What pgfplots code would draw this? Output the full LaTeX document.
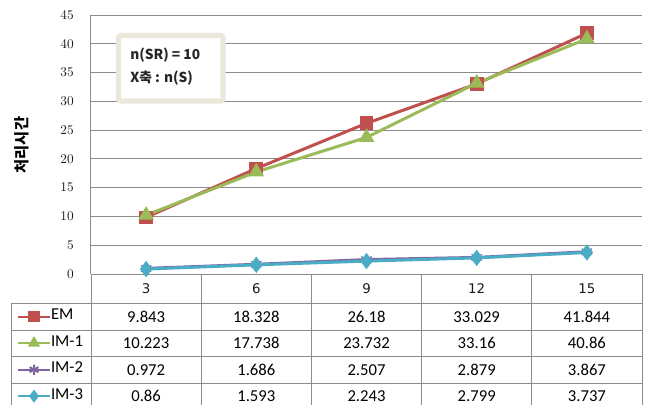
\documentclass[border=0pt]{standalone}
\usepackage{fontspec}
\setmainfont{Carlito}
\newfontfamily\kr{Noto Sans CJK KR}
\newfontfamily\dv{DejaVu Sans}
\usepackage{pgfplots}
\pgfplotsset{compat=1.18}
\usetikzlibrary{shadows}
\definecolor{cEM}{HTML}{C0504D}
\definecolor{cIa}{HTML}{9BBB59}
\definecolor{cIb}{HTML}{8064A2}
\definecolor{cIc}{HTML}{4BACC6}
\definecolor{gridc}{HTML}{8C8C8C}
\definecolor{boxc}{HTML}{EAE8DA}
\begin{document}
\begin{tikzpicture}
\begin{axis}[
  name=ax,
  scale only axis, width=413.25bp, height=194.25bp,
  xmin=0, xmax=5, ymin=0, ymax=45,
  ytick={0,5,...,45},
  xtick={0.5,1.5,2.5,3.5,4.5},
  xticklabels={3,6,9,12,15},
  major tick length=0pt,
  axis lines*=left,
  axis line style={gridc, line width=0.75bp},
  ymajorgrids, grid style={gridc, line width=0.75bp},
  yticklabel style={font=\dv\fontsize{10bp}{12bp}\selectfont, text=black!90, anchor=east, inner sep=0pt, xshift=-12.75bp},
  xticklabel style={font=\dv\fontsize{10bp}{12bp}\selectfont, text=black!90, anchor=center, inner sep=0pt, yshift=-11.25bp},
  ylabel={\kr\bfseries 처리시간},
  ylabel style={at={(rel axis cs:-0.125,0.498)}, anchor=center, font=\fontsize{11.5bp}{13bp}\selectfont},
  clip=false,
  legend cell align=left,
  legend image code/.code={\draw[mark repeat=2,mark phase=2,#1,line width=1.5bp,mark options={scale=0.85}] plot coordinates {(1.5bp,0bp)(13.5bp,0bp)(25.5bp,0bp)};},
  legend style={at={(rel axis cs:-0.1343,-0.131)}, anchor=north west, draw=none, fill=none,
    inner sep=0pt, outer sep=0pt, row sep=6.9bp,
    font=\fontsize{12.5bp}{14bp}\selectfont,
    nodes={inner sep=0pt, text height=9bp, text depth=4bp}},
]
\addplot[cEM, line width=2.25bp, mark=square*, mark size=4bp] coordinates {(0.5,9.843)(1.5,18.328)(2.5,26.18)(3.5,33.029)(4.5,41.844)};
\addlegendentry{EM}
\addplot[cIa, line width=2.25bp, mark=triangle*, mark size=4.6bp] coordinates {(0.5,10.223)(1.5,17.738)(2.5,23.732)(3.5,33.16)(4.5,40.86)};
\addlegendentry{IM-1}
\addplot[cIb, line width=2.25bp, mark=asterisk, mark size=4.5bp, mark options={line width=0.9bp}] coordinates {(0.5,0.972)(1.5,1.686)(2.5,2.507)(3.5,2.879)(4.5,3.867)};
\addlegendentry{IM-2}
\addplot[cIc, line width=2.25bp, mark=diamond*, mark size=4.3bp] coordinates {(0.5,0.86)(1.5,1.593)(2.5,2.243)(3.5,2.799)(4.5,3.737)};
\addlegendentry{IM-3}
\end{axis}
\begin{scope}[shift={(ax.south west)}, x=0.75bp, y=-0.75bp, shift={(-91,-274)}]
  % table grid
  \begin{scope}[gridc, line width=0.75bp]
    \foreach \xx in {91,201.2,311.4,421.6,531.8,642} \draw (\xx,274) -- (\xx,405);
    \foreach \yy in {303,330,356,383} \draw (12,\yy) -- (642,\yy);
    \draw (12,303) -- (12,405);
  \end{scope}
  % table values
  \begin{scope}[font=\fontsize{12.5bp}{14bp}\selectfont]
    \foreach \v [count=\i from 0] in {9.843,18.328,26.18,33.029,41.844} \node at (146.1+110.2*\i,317) {\v};
    \foreach \v [count=\i from 0] in {10.223,17.738,23.732,33.16,40.86} \node at (146.1+110.2*\i,343) {\v};
    \foreach \v [count=\i from 0] in {0.972,1.686,2.507,2.879,3.867} \node at (146.1+110.2*\i,370) {\v};
    \foreach \v [count=\i from 0] in {0.86,1.593,2.243,2.799,3.737} \node at (146.1+110.2*\i,396) {\v};
  \end{scope}
  % annotation box
  \draw[rounded corners=2bp, fill=white, draw=boxc, line width=4bp,
        drop shadow={shadow xshift=1.2bp, shadow yshift=-1.2bp, opacity=0.25}]
        (118.5,35.5) rectangle (223,101);
  \node[anchor=west, inner sep=0pt, font=\kr\bfseries\fontsize{10.3bp}{12bp}\selectfont, text=black!85] at (130,55) {n(SR) = 10};
  \node[anchor=west, inner sep=0pt, font=\kr\bfseries\fontsize{10.3bp}{12bp}\selectfont, text=black!85] at (130,78) {X축 : n(S)};
  \pgfresetboundingbox
  \path[use as bounding box] (0,0) rectangle (648,405);
\end{scope}
\end{tikzpicture}
\end{document}
